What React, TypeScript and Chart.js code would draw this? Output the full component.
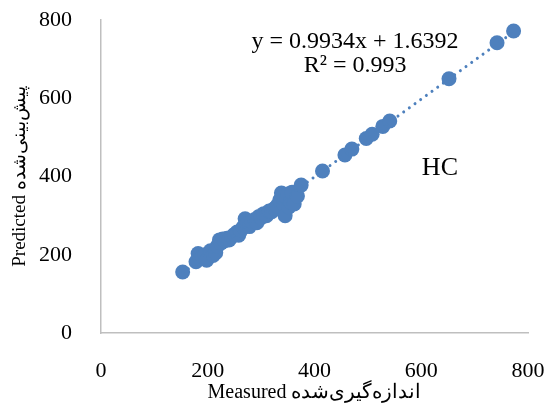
import React, { useEffect, useRef } from "react";
import { Chart, registerables } from "chart.js";

Chart.register(...registerables);

const measured = [153, 178, 182, 186, 190, 195, 198, 205, 210, 215, 218, 222, 225, 228, 232, 236, 240, 245, 250, 255, 258, 262, 266, 270, 274, 278, 282, 288, 292, 296, 300, 305, 310, 315, 320, 325, 330, 335, 338, 342, 345, 348, 350, 352, 355, 358, 362, 368, 375, 415, 457, 470, 497, 508, 528, 541, 652, 742, 773];
const predicted = [156, 182, 203, 190, 195, 200, 186, 210, 198, 205, 222, 238, 230, 240, 236, 242, 238, 246, 252, 258, 250, 262, 270, 292, 280, 272, 285, 290, 282, 298, 295, 305, 300, 312, 310, 318, 325, 340, 358, 330, 300, 345, 355, 322, 335, 360, 330, 350, 378, 414, 455, 470, 497, 508, 528, 542, 650, 742, 772];
const slope = 0.9934;
const intercept = 1.6392;
const axisTicks = [0, 200, 400, 600, 800];
const equationText = "y = 0.9934x + 1.6392";
const r2Text = "R\u00b2 = 0.993";
const seriesLabel = "HC";
const xTitle = "Measured \u0627\u0646\u062f\u0627\u0632\u0647\u200c\u06af\u06cc\u0631\u06cc\u200c\u0634\u062f\u0647";
const yTitle = "Predicted \u067e\u06cc\u0634\u200c\u0628\u06cc\u0646\u06cc\u200c\u0634\u062f\u0647";

const FONT = "'Liberation Serif', 'Times New Roman', 'DejaVu Serif', serif";

export default function App() {
  const ref = useRef<HTMLCanvasElement | null>(null);
  useEffect(() => {
    const canvas = ref.current;
    if (!canvas) return;
    const points = measured.map((x, i) => ({ x, y: predicted[i] }));
    const xmin = Math.min(...measured);
    const xmax = Math.max(...measured);
    const trend = [
      { x: xmin, y: slope * xmin + intercept },
      { x: xmax, y: slope * xmax + intercept },
    ];
    const textPlugin = {
      id: "annot",
      afterDatasetsDraw(chart: any) {
        const { ctx, scales } = chart;
        const xs = scales.x;
        const ys = scales.y;
        ctx.save();
        ctx.fillStyle = "#000";
        ctx.textAlign = "center";
        ctx.textBaseline = "middle";
        ctx.font = `24px ${FONT}`;
        ctx.fillText(equationText, xs.getPixelForValue(476), ys.getPixelForValue(744));
        ctx.fillText(r2Text, xs.getPixelForValue(476), ys.getPixelForValue(683));
        ctx.font = `26px ${FONT}`;
        ctx.fillText(seriesLabel, xs.getPixelForValue(635), ys.getPixelForValue(422));
        ctx.restore();
      },
    };
    const chart = new Chart(canvas, {
      type: "scatter",
      data: {
        datasets: [
          {
            type: "line",
            data: trend,
            borderColor: "#4e80bd",
            borderWidth: 3,
            borderDash: [0.01, 7],
            borderCapStyle: "round",
            pointRadius: 0,
            fill: false,
            order: 0,
          } as any,
          {
            data: points,
            backgroundColor: "#4e80bd",
            borderWidth: 0,
            pointRadius: 7.5,
            pointHoverRadius: 7.5,
            order: 1,
          },
        ],
      },
      options: {
        responsive: false,
        animation: false,
        layout: { autoPadding: false, padding: { top: 20, right: 19, left: 0, bottom: 0 } },
        plugins: { legend: { display: false }, tooltip: { enabled: false } },
        scales: {
          x: {
            type: "linear",
            min: 0,
            max: 800,
            afterFit: (s: any) => { s.height = 76; s.paddingRight = 0; s.paddingLeft = 0; },
            afterBuildTicks: (s: any) => { s.ticks = axisTicks.map((v) => ({ value: v })); },
            grid: { display: false },
            border: { display: true, color: "#bfbfbf", width: 1.5 },
            ticks: { color: "#000", padding: 17, font: { family: FONT, size: 22 }, maxRotation: 0 },
            title: { display: true, text: xTitle, color: "#000", font: { family: FONT, size: 20 }, padding: { bottom: 4, top: 0 } },
          },
          y: {
            type: "linear",
            min: 0,
            max: 800,
            afterFit: (s: any) => { s.width = 101; s.paddingTop = 0; s.paddingBottom = 0; },
            afterBuildTicks: (s: any) => { s.ticks = axisTicks.map((v) => ({ value: v })); },
            grid: { display: false },
            border: { display: true, color: "#bfbfbf", width: 1.5 },
            ticks: { color: "#000", padding: 21, font: { family: FONT, size: 22 } },
            title: { display: true, text: yTitle, color: "#000", font: { family: FONT, size: 19 }, padding: { top: 9, bottom: 0 } },
          },
        },
      },
      plugins: [textPlugin],
    } as any);
    return () => chart.destroy();
  }, []);
  return (
    <div style={{ position: "fixed", left: 0, top: 0, width: 547, height: 409, background: "#fff" }}>
      <canvas ref={ref} width={547} height={409} style={{ width: 547, height: 409, display: "block" }} />
    </div>
  );
}
